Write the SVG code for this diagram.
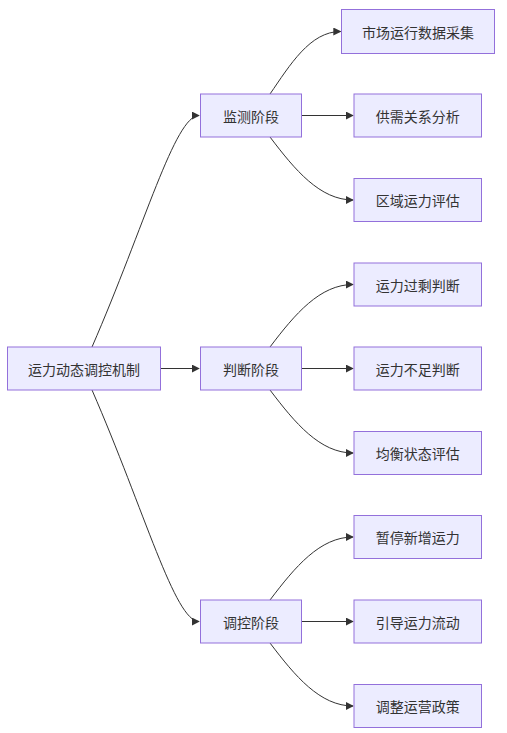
<svg xmlns="http://www.w3.org/2000/svg" width="507" height="733" viewBox="0 0 507 733">
<style>
.n rect{fill:#ECECFF;stroke:#9370DB;stroke-width:1}
.n text{font-family:"Noto Sans CJK SC","Noto Sans",sans-serif;font-size:14px;fill:#333;text-anchor:middle;dominant-baseline:central}
.e path{fill:none;stroke:#333;stroke-width:1}
</style>
<defs>
<marker id="arr" viewBox="0 0 10 10" refX="9" refY="5" markerWidth="8" markerHeight="8" markerUnits="userSpaceOnUse" orient="auto">
<path d="M0,0 L10,5 L0,10 z" fill="#333"/>
</marker>
</defs>
<rect width="507" height="733" fill="#fff"/>
<g class="e">
<path d="M92,347 C145,225 175,115.5 199,115.5" marker-end="url(#arr)"/>
<path d="M160.5,368.5 L199,368.5" marker-end="url(#arr)"/>
<path d="M92,390 C145,512 175,621.5 199,621.5" marker-end="url(#arr)"/>
<path d="M270,94 C290,65 310,31.5 340.5,31.5" marker-end="url(#arr)"/>
<path d="M301.5,115.5 L353,115.5" marker-end="url(#arr)"/>
<path d="M270,137 C295,170 320,200 353,200" marker-end="url(#arr)"/>
<path d="M270,347 C295,314 320,284.5 353,284.5" marker-end="url(#arr)"/>
<path d="M301.5,368.5 L353,368.5" marker-end="url(#arr)"/>
<path d="M270,390 C295,423 320,453 353,453" marker-end="url(#arr)"/>
<path d="M270,600 C295,567 320,537 353,537" marker-end="url(#arr)"/>
<path d="M301.5,621.5 L353,621.5" marker-end="url(#arr)"/>
<path d="M270,643 C295,676 320,706 353,706" marker-end="url(#arr)"/>
</g>
<g id="root" class="n"><rect x="7.5" y="347" width="153" height="43"/><text x="84" y="368.5">运力动态调控机制</text></g>
<g id="s1" class="n"><rect x="200.5" y="94" width="101" height="43"/><text x="251" y="115.5">监测阶段</text></g>
<g id="s2" class="n"><rect x="200.5" y="347" width="101" height="43"/><text x="251" y="368.5">判断阶段</text></g>
<g id="s3" class="n"><rect x="200.5" y="600" width="101" height="43"/><text x="251" y="621.5">调控阶段</text></g>
<g id="a1" class="n"><rect x="341.5" y="9.5" width="153" height="44"/><text x="418" y="31.5">市场运行数据采集</text></g>
<g id="a2" class="n"><rect x="354" y="94" width="127.5" height="43"/><text x="417.75" y="115.5">供需关系分析</text></g>
<g id="a3" class="n"><rect x="354" y="178.5" width="127.5" height="43"/><text x="417.75" y="200">区域运力评估</text></g>
<g id="b1" class="n"><rect x="354" y="263" width="127.5" height="43"/><text x="417.75" y="284.5">运力过剩判断</text></g>
<g id="b2" class="n"><rect x="354" y="347" width="127.5" height="43"/><text x="417.75" y="368.5">运力不足判断</text></g>
<g id="b3" class="n"><rect x="354" y="431.5" width="127.5" height="43"/><text x="417.75" y="453">均衡状态评估</text></g>
<g id="c1" class="n"><rect x="354" y="515.5" width="127.5" height="43"/><text x="417.75" y="537">暂停新增运力</text></g>
<g id="c2" class="n"><rect x="354" y="600" width="127.5" height="43"/><text x="417.75" y="621.5">引导运力流动</text></g>
<g id="c3" class="n"><rect x="354" y="684.5" width="127.5" height="43"/><text x="417.75" y="706">调整运营政策</text></g>
</svg>
